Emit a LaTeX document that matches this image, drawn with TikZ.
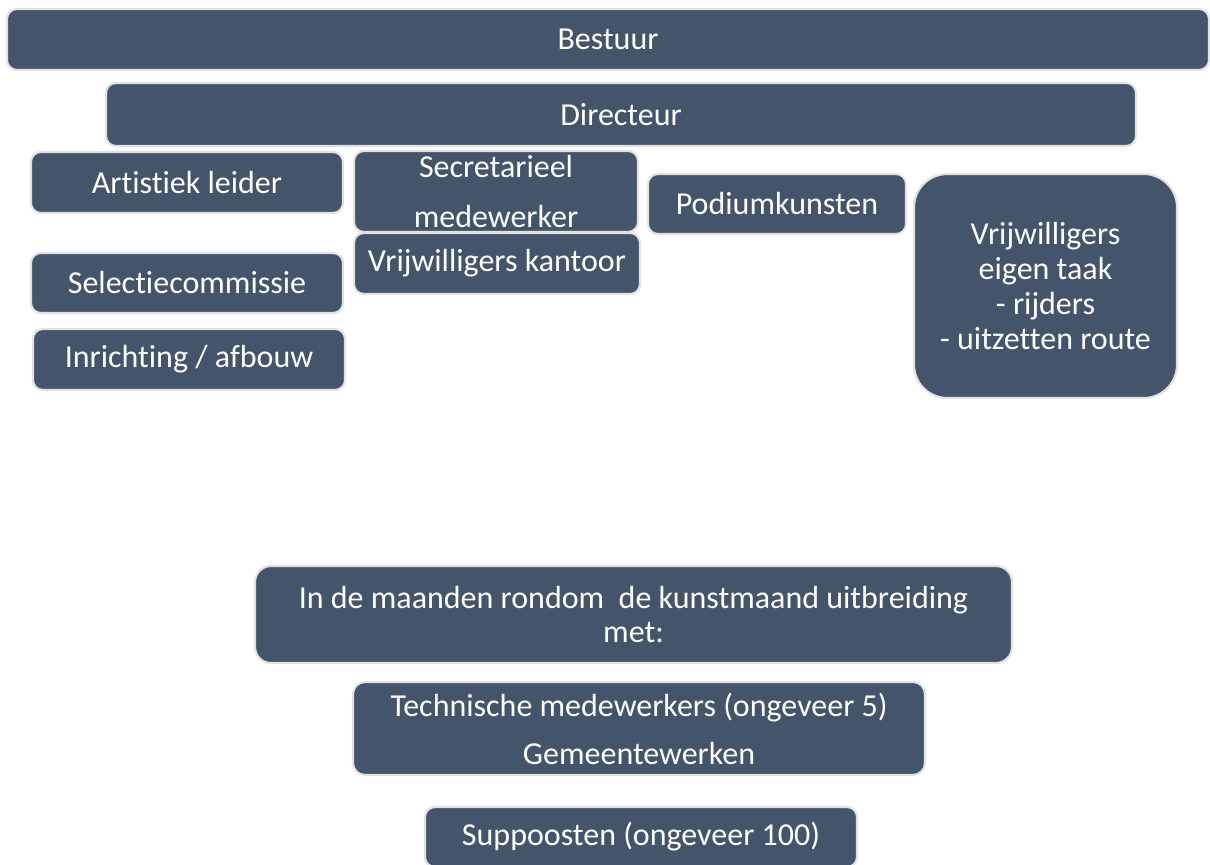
\documentclass[tikz,border=0pt]{standalone}
\usepackage{fontspec}
\setmainfont[Ligatures=NoCommon]{Carlito}
\definecolor{boxfill}{HTML}{44546A}
\definecolor{boxline}{HTML}{E2E2E2}
\begin{document}
\begin{tikzpicture}[x=0.75pt,y=-0.75pt,
  orgbox/.style={draw=boxline, line width=1.6pt, fill=boxfill, text=white,
    rounded corners=7.5pt, inner sep=0pt, align=center,
    font=\fontsize{24}{26.3}\selectfont},
  bw/.style={minimum width=#1*0.75pt},
  bh/.style={minimum height=#1*0.75pt}]
\useasboundingbox (0,0) rectangle (1210,864);
\clip (0,0) rectangle (1210,864);
\node[orgbox, bw=1202, bh=61] (bestuur) at (608,39.5) {Bestuur};
\node[orgbox, bw=1030, bh=63] (directeur) at (621,114.5) {Directeur};
\node[orgbox, bw=312, bh=61] (artistiek) at (187,182.5) {Artistiek leider};
\node[orgbox, bw=284, bh=81, font=\fontsize{24}{36.8}\selectfont] (secretarieel) at (496,191.5) {Secretarieel\\medewerker};
\node[orgbox, bw=286, bh=61] (kantoor) at (497,263.5) {Vrijwilligers kantoor};
\node[orgbox, bw=312, bh=60] (selectie) at (187,283) {Selectiecommissie};
\node[orgbox, bw=312, bh=61] (inrichting) at (189,359.5) {Inrichting / afbouw};
\node[orgbox, bw=258, bh=60] (podium) at (777,204) {Podiumkunsten};
\node[orgbox, bw=263, bh=224, rounded corners=25pt] (eigen) at (1045.5,286) {Vrijwilligers\\eigen taak\\- rijders\\- uitzetten route};
\node[orgbox, bw=757, bh=97, rounded corners=12pt, font=\fontsize{24}{25.5}\selectfont] (maanden) at (633.5,614.5) {In de maanden rondom\ \ de kunstmaand uitbreiding\\met:};
\node[orgbox, bw=572, bh=93, rounded corners=9pt, font=\fontsize{24}{36}\selectfont] (technisch) at (639,728.5) {Technische medewerkers (ongeveer 5)\\Gemeentewerken};
\node[orgbox, bw=432, bh=60] (suppoosten) at (641,837) {Suppoosten (ongeveer 100)};
\end{tikzpicture}
\end{document}
